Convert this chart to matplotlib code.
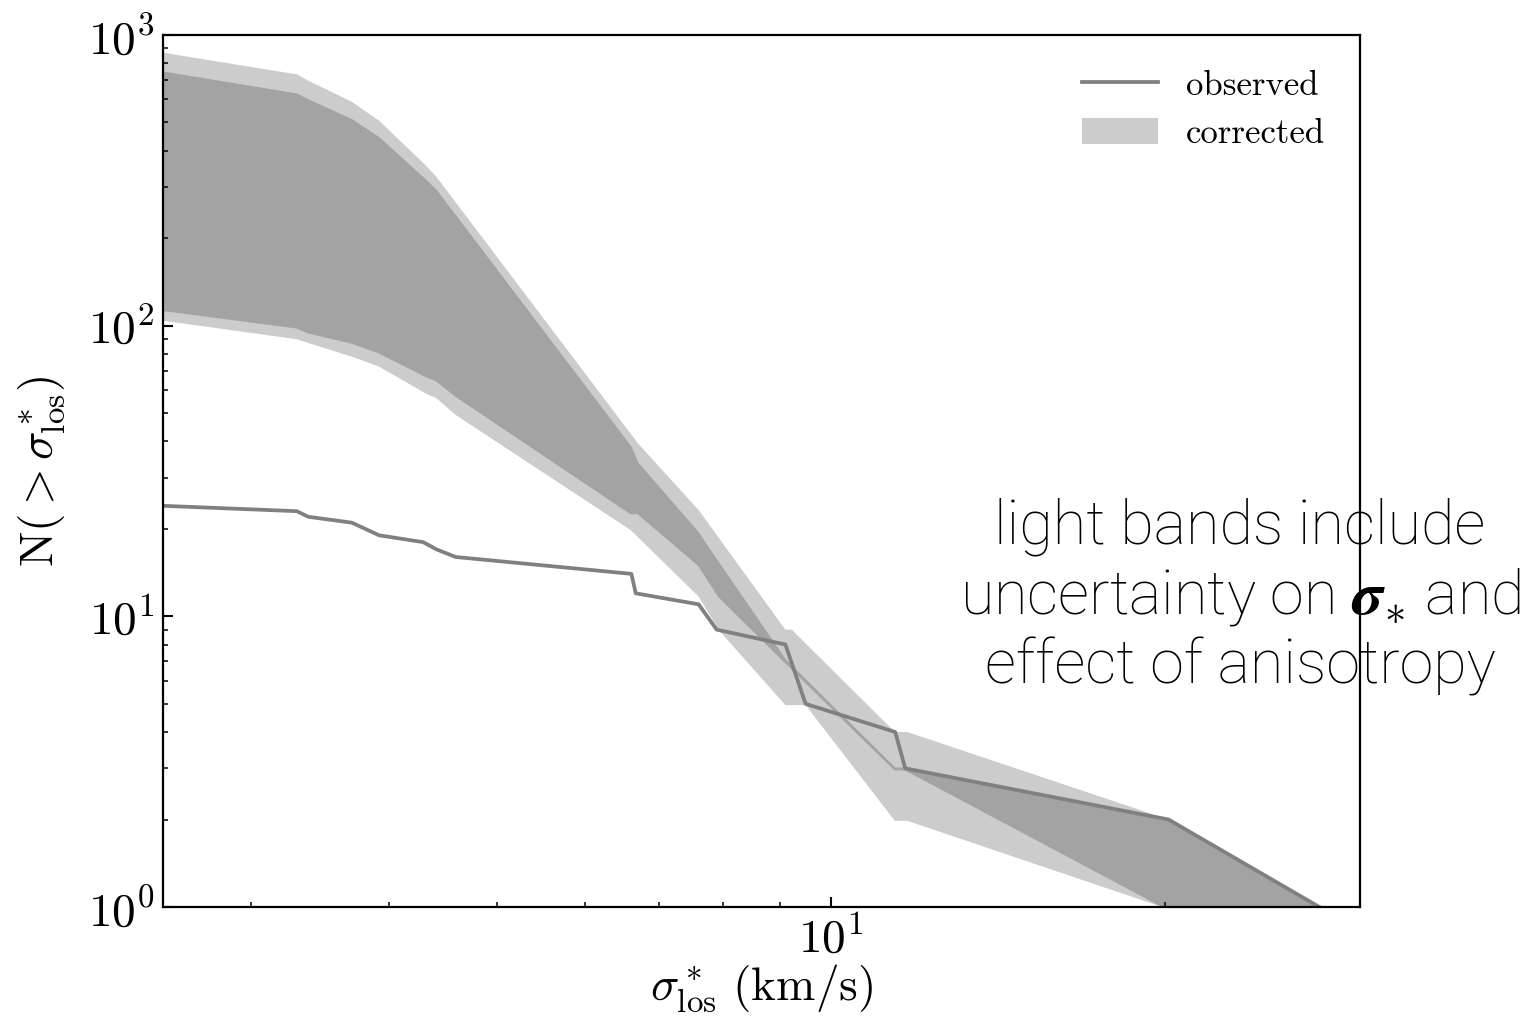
import numpy as np
import matplotlib
matplotlib.use("Agg")
import matplotlib.pyplot as plt
from matplotlib.ticker import NullFormatter, LogLocator
from matplotlib.lines import Line2D
from matplotlib.patches import Patch

plt.rcParams['font.family'] = 'serif'
plt.rcParams['font.serif'] = ['cmr10']
plt.rcParams['mathtext.fontset'] = 'cm'
plt.rcParams['axes.formatter.use_mathtext'] = True

# observed cumulative counts N(> sigma)
obs_sigma = [2.5, 3.30, 3.38, 3.70, 3.915, 4.29, 4.41, 4.59, 6.61, 6.67, 7.60, 7.89,
             9.10, 9.49, 11.43, 11.67, 20.16, 27.57]
obs_N = [24, 23, 22, 21, 19, 18, 17, 16, 14, 12, 11, 9, 8, 5, 4, 3, 2, 1]

# corrected, light band (incl. sigma uncertainty + anisotropy)
light_up_sigma = [2.5, 3.30, 3.38, 3.70, 3.915, 4.31, 4.41, 6.70, 7.60, 7.81, 9.10, 9.22,
                  11.42, 11.72, 20.16, 27.57]
light_up_N = [869, 732, 696, 589, 507, 357, 325, 39.4, 23.2, 20.1, 9.0, 9.0, 4.0, 4.0, 2.0, 1.0]
light_lo_sigma = [2.5, 3.30, 3.38, 3.70, 3.915, 4.31, 4.41, 4.59, 6.60, 7.60, 7.925, 9.10,
                  9.49, 11.42, 11.72, 19.9]
light_lo_N = [104, 89.8, 87.2, 78.2, 72.3, 58.5, 56.3, 49.3, 19.8, 11.7, 8.97, 4.95, 4.95,
              1.98, 1.98, 1.0]

# corrected, dark band
dark_up_sigma = [2.5, 3.30, 3.38, 3.70, 3.915, 4.31, 4.41, 6.60, 6.70, 7.60, 7.81, 9.10,
                 11.42, 11.67, 20.16, 27.57]
dark_up_N = [744, 625, 597, 510, 442, 317, 291, 38.3, 33.6, 19.3, 16.5, 7.07, 3.0, 3.0, 2.0, 1.0]
dark_lo_sigma = [2.5, 3.30, 3.38, 3.70, 3.915, 4.31, 4.41, 4.59, 6.60, 6.70, 7.60, 7.925,
                 9.10, 11.42, 11.67, 19.95]
dark_lo_N = [113, 98.4, 94.6, 87.2, 80.7, 67.1, 64.7, 57.3, 22.6, 22.6, 15.0, 11.7, 6.95,
             2.97, 2.97, 1.0]


def band(ax, xu, yu, xl, yl, color, lw=0):
    xs = np.concatenate([xu, xl[::-1]])
    ys = np.concatenate([yu, yl[::-1]])
    ax.fill(xs, ys, facecolor=color, edgecolor=color, lw=lw)


fig = plt.figure(figsize=(15.22, 10.22), dpi=100)
ax = fig.add_axes([0.1071, 0.1125, 0.7865, 0.8533])

band(ax, light_up_sigma, light_up_N, light_lo_sigma, light_lo_N, '#cccccc')
band(ax, dark_up_sigma, dark_up_N, dark_lo_sigma, dark_lo_N, '#a3a3a3', lw=1.2)
ax.plot(obs_sigma, obs_N, color='#808080', lw=2.7)

ax.set_xscale('log')
ax.set_yscale('log')
ax.set_xlim(2.5, 30)
ax.set_ylim(1, 1000)

ax.xaxis.set_minor_formatter(NullFormatter())
ax.yaxis.set_minor_locator(LogLocator(base=10, subs=np.arange(2, 10)))
ax.tick_params(which='both', direction='in', top=False, right=False, labelsize=34)
ax.tick_params(which='major', length=7, width=1.5, pad=6)
ax.tick_params(which='minor', length=3.6, width=1.1)
for s in ax.spines.values():
    s.set_linewidth(1.6)

ax.set_xlabel(r'$\sigma^*_{\rm los}\ (\mathrm{km/s})$', fontsize=34)
ax.set_ylabel(r'$\mathrm{N}(>\sigma^*_{\rm los})$', fontsize=34)
ax.xaxis.set_label_coords(0.5, -0.064)
ax.yaxis.set_label_coords(-0.08, 0.5)

handles = [Line2D([], [], color='#808080', lw=2.7),
           Patch(facecolor='#cccccc', edgecolor='none')]
ax.legend(handles, ['observed', 'corrected'], loc='upper right', frameon=False,
          fontsize=25, handlelength=2.2, handleheight=0.8, borderaxespad=0.6,
          labelspacing=0.45)

fig.text(0.8147, 0.4159,
         'light bands include\nuncertainty on $\\boldsymbol{\\sigma}_{*}$ and\neffect of anisotropy',
         ha='center', va='center', fontsize=44, family='Roboto', fontweight='light',
         linespacing=1.2, color='black')

fig.savefig('out.png', dpi=100)
